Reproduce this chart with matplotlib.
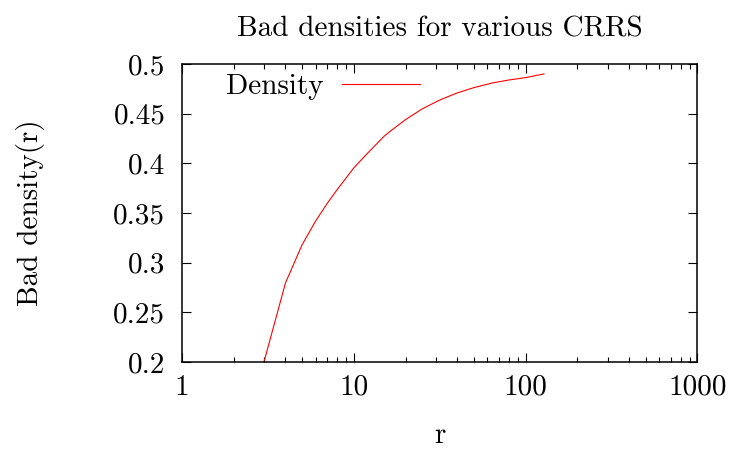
import matplotlib
matplotlib.use("Agg")
import matplotlib.pyplot as plt
from matplotlib.ticker import FixedLocator, NullFormatter, LogLocator

plt.rcParams['font.family'] = 'cmr10'
plt.rcParams['mathtext.fontset'] = 'cm'
plt.rcParams['axes.formatter.use_mathtext'] = True

# values
r_values = [3, 4, 5, 6, 7, 8, 10, 12, 15, 16, 20, 25, 32, 40, 50, 64, 80, 100, 128]
density = [0.200, 0.2795, 0.318, 0.342, 0.3597, 0.3735, 0.3954, 0.4100, 0.4272,
           0.4312, 0.4440, 0.4548, 0.4641, 0.4709, 0.4762, 0.4809, 0.4839, 0.4863, 0.490]
x_ticks = [1, 10, 100, 1000]
x_labels = ['1', '10', '100', '1000']
y_ticks = [0.2, 0.25, 0.3, 0.35, 0.4, 0.45, 0.5]
y_labels = ['0.2', '0.25', '0.3', '0.35', '0.4', '0.45', '0.5']

fs = 21

fig = plt.figure(figsize=(7.31, 4.5), dpi=100)
ax = fig.add_axes([0.249, 0.1956, 0.705, 0.6622])

ax.plot(r_values, density, color='red', lw=0.8, label='Density')

ax.set_xscale('log')
ax.set_xlim(1, 1000)
ax.set_ylim(0.2, 0.5)
ax.xaxis.set_major_locator(FixedLocator(x_ticks))
ax.set_xticklabels(x_labels)
ax.xaxis.set_minor_locator(LogLocator(base=10, subs=range(2, 10)))
ax.xaxis.set_minor_formatter(NullFormatter())
ax.set_yticks(y_ticks)
ax.set_yticklabels(y_labels)

ax.tick_params(which='both', direction='in', top=True, right=True, labelsize=fs)
ax.tick_params(which='major', length=6.5, width=0.8)
ax.tick_params(which='minor', length=3.3, width=0.8)
ax.tick_params(axis='x', pad=9)
ax.tick_params(axis='y', pad=12)
for s in ax.spines.values():
    s.set_linewidth(1.1)

ax.set_title('Bad densities for various CRRS', fontsize=fs, pad=20)
ax.set_xlabel('r', fontsize=fs, labelpad=16)
ax.set_ylabel('Bad density(r)', fontsize=fs, labelpad=49)

ax.legend(loc='center left', bbox_to_anchor=(0.085, 0.923), frameon=False,
          markerfirst=False, fontsize=fs, handlelength=2.67, handletextpad=0.65,
          borderpad=0, borderaxespad=0)

fig.savefig('out.png', dpi=100)
